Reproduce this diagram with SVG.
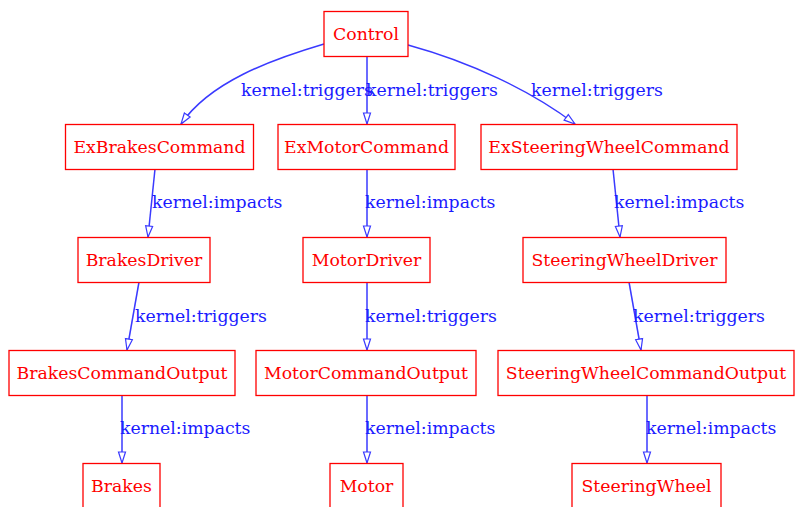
<svg xmlns="http://www.w3.org/2000/svg" width="795" height="507" viewBox="0 0 795 507">
<style>
.n rect{fill:#fff;stroke:#ff0000;stroke-width:1.3}
.n text{fill:#ff0000;font-family:"DejaVu Serif","Liberation Serif",serif;font-size:17.3px;text-anchor:middle}
.e path{fill:none;stroke:#3a3aff;stroke-width:1.5}
.l{fill:#1a1aff;font-family:"DejaVu Serif","Liberation Serif",serif;font-size:17.3px}
</style>
<defs>
<marker id="a" markerUnits="userSpaceOnUse" markerWidth="14" markerHeight="12" refX="12" refY="5" orient="auto" viewBox="0 0 14 10">
<path d="M1,1.5 L12,5 L1,8.5 Z" fill="#fff" stroke="#3a3aff" stroke-width="1.2"/>
</marker>
</defs>
<rect width="795" height="507" fill="#fff"/>
<g id="edges" class="e">
<path d="M324,44 C270,60 210,82 181,124" marker-end="url(#a)"/>
<path d="M367,56 L367,124" marker-end="url(#a)"/>
<path d="M408,45 C470,62 530,90 575,124" marker-end="url(#a)"/>
<path d="M155,169 L148,237" marker-end="url(#a)"/>
<path d="M367,169 L367,237" marker-end="url(#a)"/>
<path d="M613,169 L620,237" marker-end="url(#a)"/>
<path d="M139,282 L127,350" marker-end="url(#a)"/>
<path d="M367,282 L367,350" marker-end="url(#a)"/>
<path d="M629,282 L641,350" marker-end="url(#a)"/>
<path d="M122,395 L122,463" marker-end="url(#a)"/>
<path d="M367,395 L367,463" marker-end="url(#a)"/>
<path d="M647,395 L647,463" marker-end="url(#a)"/>
</g>
<g id="labels">
<text class="l" x="241" y="96">kernel:triggers</text>
<text class="l" x="366" y="96">kernel:triggers</text>
<text class="l" x="531" y="96">kernel:triggers</text>
<text class="l" x="152" y="208">kernel:impacts</text>
<text class="l" x="365" y="208">kernel:impacts</text>
<text class="l" x="614" y="208">kernel:impacts</text>
<text class="l" x="135" y="322">kernel:triggers</text>
<text class="l" x="365" y="322">kernel:triggers</text>
<text class="l" x="633" y="322">kernel:triggers</text>
<text class="l" x="120" y="434">kernel:impacts</text>
<text class="l" x="365" y="434">kernel:impacts</text>
<text class="l" x="646" y="434">kernel:impacts</text>
</g>
<g id="Control" class="n"><rect x="324" y="11.5" width="84" height="45"/><text x="366" y="40">Control</text></g>
<g id="ExBrakesCommand" class="n"><rect x="65.5" y="124.5" width="188" height="45"/><text x="159.5" y="153">ExBrakesCommand</text></g>
<g id="ExMotorCommand" class="n"><rect x="278" y="124.5" width="177" height="45"/><text x="366.5" y="153">ExMotorCommand</text></g>
<g id="ExSteeringWheelCommand" class="n"><rect x="481" y="124.5" width="256" height="45"/><text x="609" y="153">ExSteeringWheelCommand</text></g>
<g id="BrakesDriver" class="n"><rect x="78" y="237.5" width="132" height="45"/><text x="144" y="266">BrakesDriver</text></g>
<g id="MotorDriver" class="n"><rect x="303" y="237.5" width="127" height="45"/><text x="366.5" y="266">MotorDriver</text></g>
<g id="SteeringWheelDriver" class="n"><rect x="523" y="237.5" width="203" height="45"/><text x="624.5" y="266">SteeringWheelDriver</text></g>
<g id="BrakesCommandOutput" class="n"><rect x="9" y="350.5" width="226" height="45"/><text x="122" y="379">BrakesCommandOutput</text></g>
<g id="MotorCommandOutput" class="n"><rect x="256" y="350.5" width="220" height="45"/><text x="366" y="379">MotorCommandOutput</text></g>
<g id="SteeringWheelCommandOutput" class="n"><rect x="498" y="350.5" width="296" height="45"/><text x="646" y="379">SteeringWheelCommandOutput</text></g>
<g id="Brakes" class="n"><rect x="83" y="463.5" width="77" height="45"/><text x="121.5" y="492">Brakes</text></g>
<g id="Motor" class="n"><rect x="330" y="463.5" width="73" height="45"/><text x="366.5" y="492">Motor</text></g>
<g id="SteeringWheel" class="n"><rect x="572" y="463.5" width="149" height="45"/><text x="646.5" y="492">SteeringWheel</text></g>
</svg>
